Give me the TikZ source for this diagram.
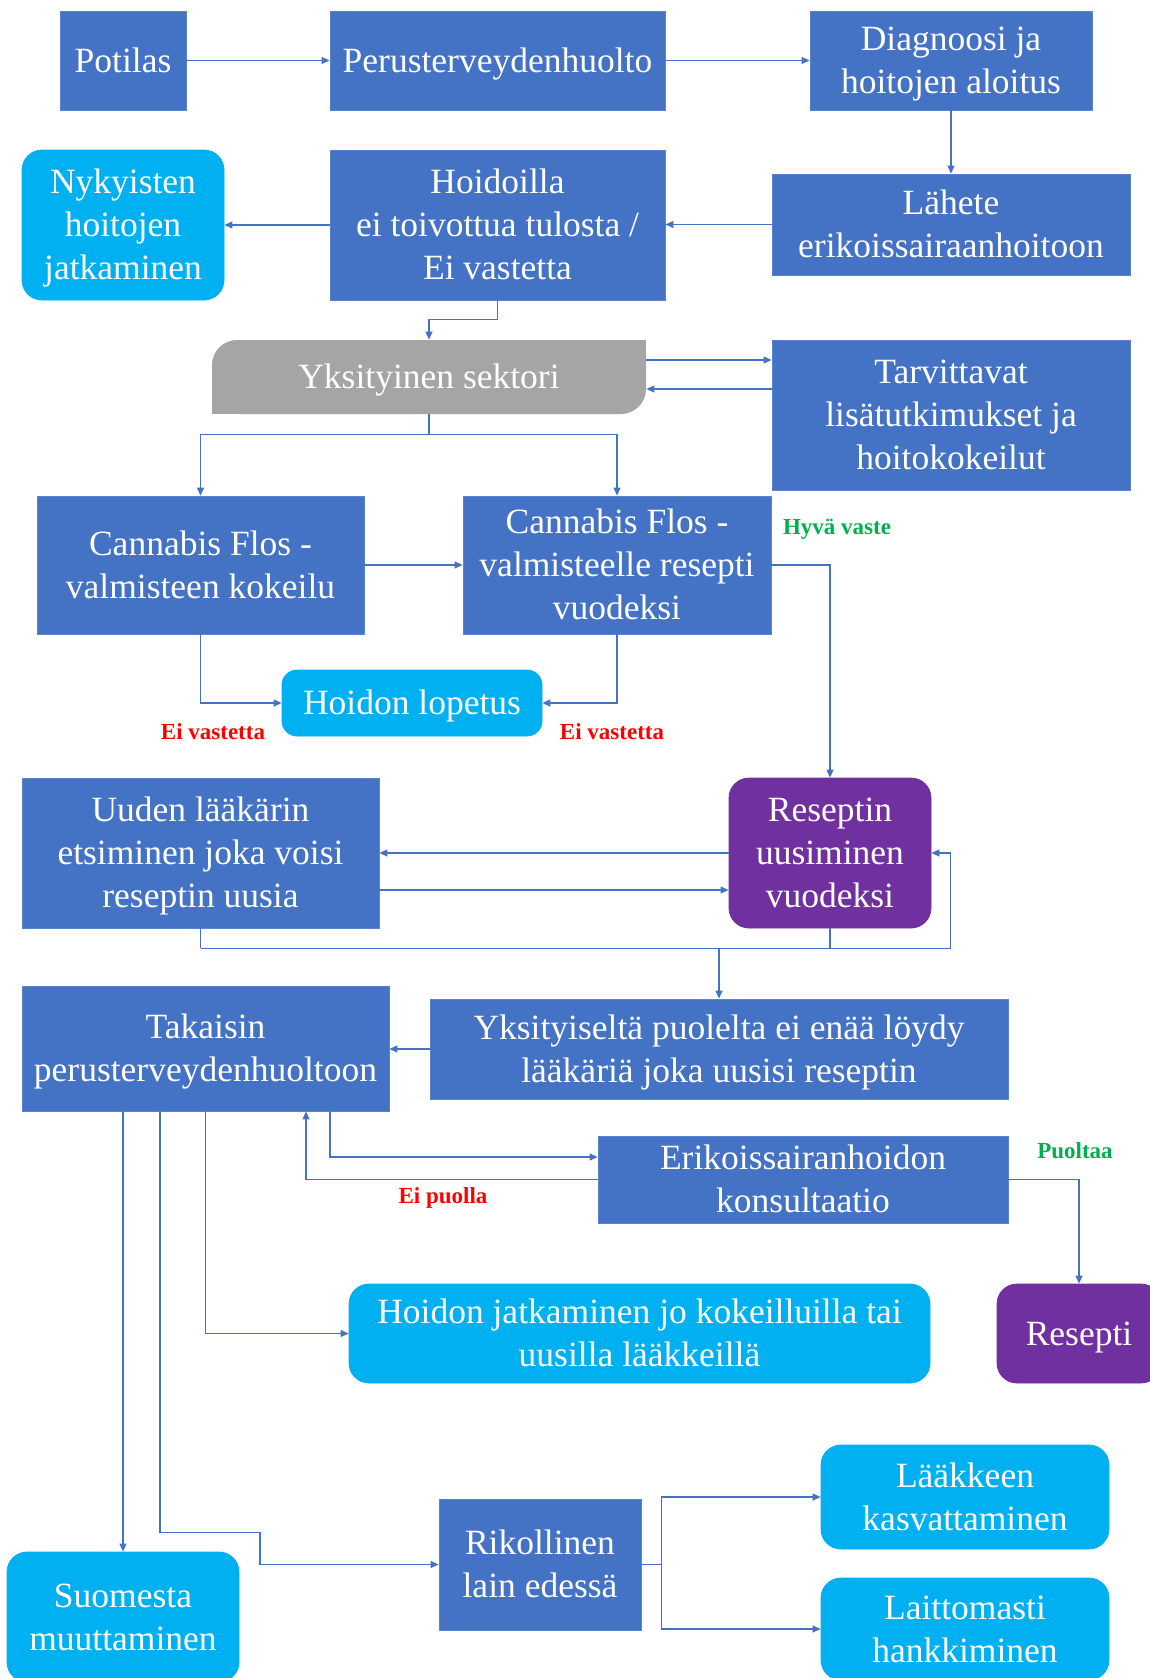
\documentclass[tikz,border=0pt]{standalone}
\usepackage{fontspec}
\setmainfont{Liberation Serif}
\usetikzlibrary{arrows.meta,calc}
\definecolor{bluebox}{HTML}{4472C4}
\definecolor{bluebord}{HTML}{5A84CE}
\definecolor{cyanbox}{HTML}{00B0F0}
\definecolor{purplebox}{HTML}{7030A0}
\definecolor{graybox}{HTML}{A5A5A5}
\definecolor{redlab}{HTML}{FF0000}
\definecolor{greenlab}{HTML}{00B050}
\newcommand\bs{\rule[-7.7pt]{0pt}{39.3pt}}
\tikzset{
  box/.style={fill=bluebox, draw=bluebord, line width=0.8pt, text=white, align=center, inner sep=0pt,
    font=\fontsize{35.5pt}{43pt}\selectfont},
  cbox/.style={box, fill=cyanbox, draw=cyanbox, rounded corners=20pt},
  pbox/.style={box, fill=purplebox, draw=purplebox, rounded corners=20pt},
  gbox/.style={box, fill=graybox, draw=none, rounded corners=25pt},
  arr/.style={draw=bluebox, line width=1.2pt, -{Triangle[length=8pt,width=7pt]}},
  ln/.style={draw=bluebox, line width=1.2pt},
  rlab/.style={text=redlab, font=\fontsize{23pt}{26pt}\selectfont\bfseries, inner sep=0pt},
  glab/.style={text=greenlab, font=\fontsize{23pt}{26pt}\selectfont\bfseries, inner sep=0pt}
}
\begin{document}
\begin{tikzpicture}[x=1pt,y=-1pt]
\useasboundingbox (0,0) rectangle (1150,1678);
\fill[white] (0,0) rectangle (1150,1678);
% nodes
\node[box, minimum width=126pt, minimum height=99pt] (pot) at (123,60.5) {\bs Potilas\bs};
\node[box, minimum width=335pt, minimum height=99pt] (per) at (497.5,60.5) {\bs Perusterveydenhuolto\bs};
\node[box, minimum width=282pt, minimum height=99pt] (diag) at (951,60.5) {\bs Diagnoosi ja\\hoitojen aloitus\bs};
\node[cbox, minimum width=202pt, minimum height=150pt] (nyky) at (123,225) {\bs Nykyisten\\hoitojen\\jatkaminen\bs};
\node[box, minimum width=335pt, minimum height=150pt] (hoid) at (497.5,225) {\bs Hoidoilla\\ei toivottua tulosta /\\Ei vastetta\bs};
\node[box, minimum width=358pt, minimum height=101pt] (lah) at (951,224.5) {\bs Lähete\\erikoissairaanhoitoon\bs};
\node[gbox, minimum width=434pt, minimum height=74pt] (yks) at (429,377) {};
\fill[graybox] (yks.north east) rectangle ++(-30,30);
\fill[graybox] (yks.south west) rectangle ++(30,-30);
\node[text=white, font=\fontsize{35.5pt}{43pt}\selectfont, inner sep=0pt] (ykst) at (yks.center) {\bs Yksityinen sektori\bs};
\node[box, minimum width=358pt, minimum height=150pt] (tarv) at (951,415) {\bs Tarvittavat\\lisätutkimukset ja\\hoitokokeilut\bs};
\node[box, minimum width=327pt, minimum height=138pt] (can1) at (200.5,565) {\bs Cannabis Flos -\\valmisteen kokeilu\bs};
\node[box, minimum width=308pt, minimum height=138pt] (can2) at (617,565) {\bs Cannabis Flos -\\valmisteelle resepti\\vuodeksi\bs};
\node[cbox, rounded corners=15pt, minimum width=260pt, minimum height=66pt] (lop) at (412,703) {\bs Hoidon lopetus\bs};
\node[pbox, minimum width=202pt, minimum height=150pt] (res) at (830,853) {\bs Reseptin\\uusiminen\\vuodeksi\bs};
\node[box, minimum width=357pt, minimum height=150pt] (uud) at (200.5,853) {\bs Uuden lääkärin\\etsiminen joka voisi\\reseptin uusia\bs};
\node[box, minimum width=367pt, minimum height=125pt] (tak) at (205.5,1048.5) {\bs Takaisin\\perusterveydenhuoltoon\bs};
\node[box, minimum width=578pt, minimum height=100pt] (yksit) at (719,1049) {\bs Yksityiseltä puolelta ei enää löydy\\lääkäriä joka uusisi reseptin\bs};
\node[box, minimum width=410pt, minimum height=87pt] (erik) at (803,1179.5) {\bs Erikoissairanhoidon\\konsultaatio\bs};
\node[cbox, minimum width=581pt, minimum height=99pt] (jatk) at (639.5,1333.5) {\bs Hoidon jatkaminen jo kokeilluilla tai\\uusilla lääkkeillä\bs};
\node[pbox, minimum width=164pt, minimum height=99pt] (resepti) at (1079,1333.5) {\bs Resepti\bs};
\node[cbox, minimum width=232pt, minimum height=130pt] (suom) at (123,1617) {\bs Suomesta\\muuttaminen\bs};
\node[box, minimum width=202pt, minimum height=131pt] (rik) at (540,1564.5) {\bs Rikollinen\\lain edessä\bs};
\node[cbox, minimum width=288pt, minimum height=104pt] (laak) at (965,1497) {\bs Lääkkeen\\kasvattaminen\bs};
\node[cbox, minimum width=288pt, minimum height=102pt] (lait) at (965,1629) {\bs Laittomasti\\hankkiminen\bs};
% labels
\node[rlab] (ev1) at (213,732) {Ei vastetta};
\node[rlab] (ev2) at (612,732) {Ei vastetta};
\node[glab] (hv) at (837,529) {Hyvä vaste};
\node[rlab] (ep) at (443,1198) {Ei puolla};
\node[glab] (pu) at (1075,1151) {Puoltaa};
% connectors
\draw[arr] (pot.east) -- (per.west);
\draw[arr] (per.east) -- (diag.west);
\draw[arr] (diag.south) -- (lah.north);
\draw[arr] (lah.west) -- (lah.west -| hoid.east);
\draw[arr] (hoid.west) -- (nyky.east);
\draw[arr] (hoid.south) -- ++(0,19) -| (yks.north);
\draw[arr] ([yshift=17pt]yks.east) -- ([yshift=17pt]yks.east -| tarv.west);
\draw[arr] ([yshift=-12pt]tarv.west |- yks.east) -- ([yshift=-12pt]yks.east);
\draw[ln] (yks.south) -- ++(0,20) coordinate (ysplit);
\draw[arr] (ysplit) -| (can1.north);
\draw[arr] (ysplit) -| (can2.north);
\draw[arr] (can1.east) -- (can2.west);
\draw[arr] (can1.south) |- (lop.west);
\draw[arr] (can2.south) |- (lop.east);
\draw[arr] (can2.east) -| (res.north);
\draw[arr] (res.west) -- (uud.east);
\draw[arr] ([yshift=-37pt]uud.east) -- ([yshift=-37pt]uud.east -| res.west);
\draw[ln] (uud.south) -- ++(0,20) coordinate (lb);
\draw[arr] (lb) -- ([xshift=19pt]lb -| res.east) |- (res.east);
\draw[ln] (res.south) -- (res.south |- lb);
\draw[arr] (lb -| yksit.north) -- (yksit.north);
\draw[arr] (yksit.west) -- (yksit.west -| tak.east);
\draw[arr] ([xshift=124.5pt]tak.south) |- ([yshift=22.5pt]erik.west);
\draw[arr] (erik.west) -| ([xshift=100.5pt]tak.south);
\draw[arr] (erik.east) -| (resepti.north);
\draw[arr] (tak.south) |- (jatk.west);
\draw[arr] (suom.north |- tak.south) -- (suom.north);
\draw[arr] ([xshift=-45.5pt]tak.south) -- ++(0,421) -- ++(100,0) |- (rik.west);
\draw[ln] (rik.east) -- ++(20,0) coordinate (rj);
\draw[arr] (rj) |- (laak.west);
\draw[arr] (rj) |- (lait.west);
\end{tikzpicture}
\end{document}
